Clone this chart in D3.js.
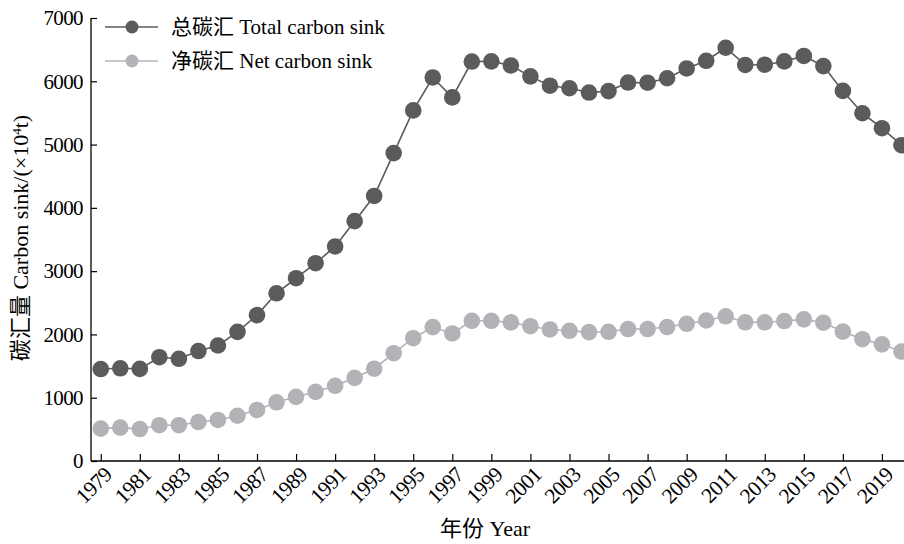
<!DOCTYPE html>
<html>
<head>
<meta charset="utf-8">
<script src="https://cdn.jsdelivr.net/npm/d3@7"></script>
<style>
  html, body { margin: 0; padding: 0; background: #fff; }
  svg { display: block; }
  text { font-family: "Liberation Serif", "Noto Sans CJK SC", serif; fill: #000; }
</style>
</head>
<body>
<svg id="chart" width="904" height="544"></svg>
<script>
const years = d3.range(1979, 2021);
const totalSink = [1453, 1465, 1455, 1640, 1615, 1738, 1825, 2040, 2305, 2650, 2888, 3125, 3390, 3790, 4188, 4865,
  5540, 6060, 5745, 6312, 6315, 6250, 6078, 5930, 5890, 5822, 5845, 5980, 5978, 6048, 6203, 6324,
  6530, 6258, 6262, 6314, 6400, 6240, 5848, 5495, 5258, 4990];
const netSink = [512, 528, 505, 565, 565, 616, 648, 715, 806, 928, 1014, 1093, 1188, 1314, 1458, 1703,
  1940, 2115, 2015, 2215, 2215, 2190, 2130, 2078, 2057, 2036, 2042, 2085, 2085, 2117, 2168, 2220,
  2287, 2192, 2192, 2212, 2238, 2185, 2045, 1925, 1843, 1730];
const yTicks = [0, 1000, 2000, 3000, 4000, 5000, 6000, 7000];
const xTicks = d3.range(1979, 2020, 2);
const seriesNames = ["总碳汇 Total carbon sink", "净碳汇 Net carbon sink"];
const seriesColors = ["#5b5a5d", "#b3b2b6"];

const svg = d3.select("#chart");
const x = d3.scaleLinear().domain([1978.5, 2021]).range([91, 921]);
const y = d3.scaleLinear().domain([0, 7000]).range([461, 18]);

// Axes
const yAxis = d3.axisLeft(y).tickValues(yTicks).tickSize(-6).tickPadding(0).tickFormat(d3.format("d"));
const gy = svg.append("g").attr("transform", "translate(91,0)").call(yAxis);
gy.select(".domain").attr("d", `M0,${y(7000)}V${y(0)}`).attr("stroke", "#000").attr("stroke-width", 1.3);
gy.selectAll(".tick line").attr("stroke", "#000").attr("stroke-width", 1.2);
gy.selectAll(".tick text").attr("font-size", 21).attr("font-family", "Liberation Serif")
  .attr("letter-spacing", -0.6).attr("dy", "0.32em").attr("x", -8).attr("fill", "#000");

const xAxis = d3.axisBottom(x).tickValues(xTicks).tickSize(-7).tickFormat(d3.format("d"));
const gx = svg.append("g").attr("transform", "translate(0,461)").call(xAxis);
gx.select(".domain").attr("d", `M91,0H921`).attr("stroke", "#000").attr("stroke-width", 1.3);
gx.selectAll(".tick line").attr("stroke", "#000").attr("stroke-width", 1.2);
gx.selectAll(".tick text")
  .attr("font-size", 21.5).attr("font-family", "Liberation Serif")
  .attr("letter-spacing", -0.6).attr("fill", "#000")
  .attr("text-anchor", "end")
  .attr("y", 0).attr("dy", 0)
  .attr("transform", "translate(12,15) rotate(-45)");

// Series
const data = [totalSink, netSink];
const line = d3.line().x((d, i) => x(years[i])).y(d => y(d));
[1, 0].forEach(s => {
  const g = svg.append("g");
  g.append("path").datum(data[s]).attr("d", line)
    .attr("fill", "none").attr("stroke", seriesColors[s]).attr("stroke-width", 1.6);
  g.selectAll("circle").data(data[s]).join("circle")
    .attr("cx", (d, i) => x(years[i])).attr("cy", d => y(d)).attr("r", 8.3)
    .attr("fill", seriesColors[s]);
});

// Legend
seriesNames.forEach((name, i) => {
  const ly = 27 + i * 34;
  svg.append("line").attr("x1", 105).attr("x2", 158).attr("y1", ly).attr("y2", ly)
    .attr("stroke", seriesColors[i]).attr("stroke-width", 1.6);
  svg.append("circle").attr("cx", 132).attr("cy", ly).attr("r", 6.5).attr("fill", seriesColors[i]);
  svg.append("text").attr("x", 171).attr("y", ly).attr("dy", "0.35em")
    .attr("font-size", 21).attr("fill", "#000").text(name);
});

// Axis titles
svg.append("text").attr("transform", "translate(28,238) rotate(-90)")
  .attr("text-anchor", "middle").attr("font-size", 22).attr("fill", "#000")
  .html('碳汇量 Carbon sink/(×10<tspan baseline-shift="super" font-size="13">4</tspan>t)');
svg.append("text").attr("x", 485).attr("y", 536).attr("text-anchor", "middle")
  .attr("font-size", 22).attr("fill", "#000").text("年份 Year");
</script>
</body>
</html>
